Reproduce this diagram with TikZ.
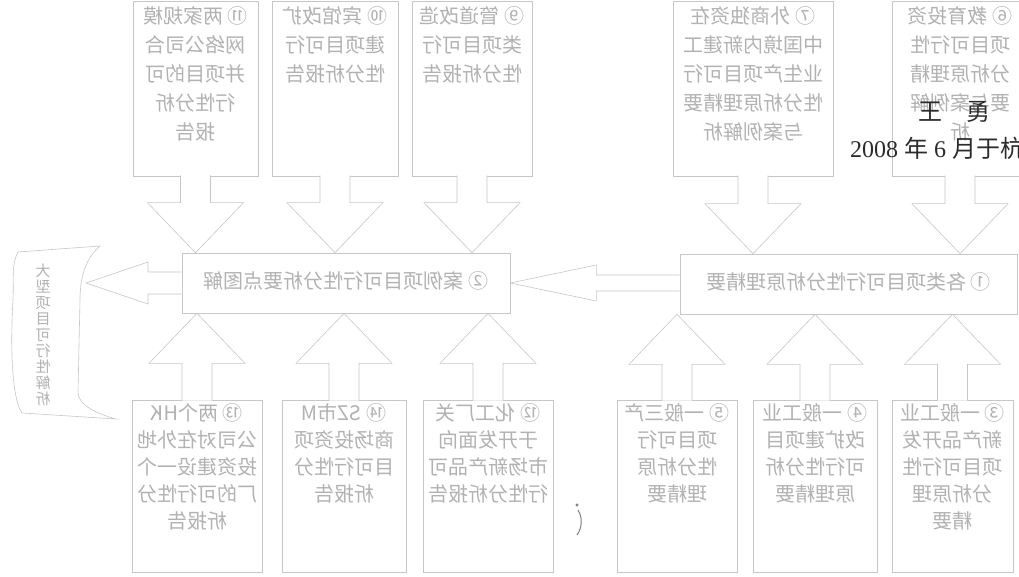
\documentclass[tikz,border=0pt]{standalone}
\usepackage{fontspec}
\setmainfont{Liberation Serif}
\newfontfamily\cjk{Noto Sans CJK SC}
\usepackage{graphicx}
\usetikzlibrary{calc,positioning}
\definecolor{boxgray}{rgb}{0.78,0.78,0.78}
\definecolor{txtgray}{rgb}{0.70,0.70,0.70}
\definecolor{inkgray}{rgb}{0.17,0.17,0.17}
\tikzset{
  box/.style={draw=boxgray, line width=0.6pt, inner sep=0pt, text=txtgray,
    font=\cjk\fontsize{20}{29}\selectfont},
  lowbox/.style={box, font=\cjk\fontsize{20}{27}\selectfont},
  bigbox/.style={box, font=\cjk\fontsize{20}{22}\selectfont},
  arr/.style={draw=boxgray, line width=0.6pt, fill=white},
  ink/.style={inner sep=0pt, text=inkgray, font=\fontsize{24}{24}\selectfont},
}
% text seen through the page: mirrored block (height, width, top pad, lines)
\newcommand\mirtext[4]{\reflectbox{\parbox[c][#1][t]{#2}{\centering\vspace*{#3}#4}}}
% hollow block arrow up/down: from, to, sign (1 down, -1 up)
\newcommand\vblock[3]{%
  \draw[arr] let \p1=(#1), \p2=(#1 |- #2) in
    ({\x1-15pt},{\y1+(#3)*1pt}) -- ({\x1-15pt},{\y2+(#3)*50pt})
    -- ({\x1-48pt},{\y2+(#3)*50pt}) -- (\x1,\y2) -- ({\x1+48pt},{\y2+(#3)*50pt})
    -- ({\x1+15pt},{\y2+(#3)*50pt}) -- ({\x1+15pt},{\y1+(#3)*1pt});}
% hollow block arrow to the left: from, to, head length, shaft half, head half
\newcommand\hblock[5]{%
  \draw[arr] let \p1=(#1), \p2=(#2) in
    (\x1,{\y2+#4}) -- ({\x2+#3},{\y2+#4}) -- ({\x2+#3},{\y2+#5}) -- (\x2,\y2)
    -- ({\x2+#3},{\y2-#5}) -- ({\x2+#3},{\y2-#4}) -- (\x1,{\y2-#4});}

\begin{document}
\begin{tikzpicture}[x=1pt,y=1pt]
  \useasboundingbox (0,0) rectangle (1019,-577);
  \clip (0,0) rectangle (1019,-577);
  \fill[white] (0,0) rectangle (1019,-577);
  \def\th{175pt} % height of upper boxes
  \def\bh{172pt} % height of lower boxes
  % upper row
  \node[box] (t1) at (195.5,-88.5) {\mirtext{\th}{125pt}{6pt}{⑪ 两家规模\\网络公司合\\并项目的可\\行性分析\\报告}};
  \node[box] (t2) at (335,-88.5) {\mirtext{\th}{126pt}{6pt}{⑩ 宾馆改扩\\建项目可行\\性分析报告}};
  \node[box] (t3) at (472,-88.5) {\mirtext{\th}{120pt}{6pt}{⑨ 管道改造\\类项目可行\\性分析报告}};
  \node[box] (t4) at (753,-88.5) {\mirtext{\th}{160pt}{6pt}{⑦ 外商独资在\\中国境内新建工\\业生产项目可行\\性分析原理精要\\与案例解析}};
  \node[box] (t5) at (960,-88.5) {\mirtext{\th}{136pt}{6pt}{⑥ 教育投资\\项目可行性\\分析原理精\\要与案例解\\析}};
  % middle row
  \node[bigbox] (c2) at (346,-283) {\mirtext{60pt}{328pt}{19pt}{② 案例项目可行性分析要点图解}};
  \node[bigbox] (c1) at (848.5,-284) {\mirtext{60pt}{337pt}{19pt}{① 各类项目可行性分析原理精要}};
  % lower row
  \node[lowbox] (b1) at (197,-486) {\mirtext{\bh}{130pt}{4pt}{⑬ 两个HK\\公司对在外地\\投资建设一个\\厂的可行性分\\析报告}};
  \node[lowbox] (b2) at (344,-486) {\mirtext{\bh}{124pt}{4pt}{⑭ SZ市M\\商场投资项\\目可行性分\\析报告}};
  \node[lowbox] (b3) at (488,-486) {\mirtext{\bh}{130pt}{4pt}{⑫ 化工厂关\\于开发面向\\市场新产品可\\行性分析报告}};
  \node[lowbox] (b4) at (677,-486) {\mirtext{\bh}{120pt}{4pt}{⑤ 一般三产\\项目可行\\性分析原\\理精要}};
  \node[lowbox] (b5) at (815,-486) {\mirtext{\bh}{124pt}{4pt}{④ 一般工业\\改扩建项目\\可行性分析\\原理精要}};
  \node[lowbox] (b6) at (952.5,-486) {\mirtext{\bh}{121pt}{4pt}{③ 一般工业\\新产品开发\\项目可行性\\分析原理\\精要}};
  % scroll on the left
  \draw[boxgray, line width=0.6pt] (18,-252) -- (100,-246)
    .. controls (86,-258) and (80,-276) .. (80,-300) -- (78,-392)
    .. controls (78,-404) and (94,-413) .. (116,-419) -- (22,-413)
    .. controls (10,-396) and (11,-330) .. (13,-300)
    .. controls (14,-280) and (11,-265) .. (18,-252) -- cycle;
  \coordinate (scrollin) at (86,-283);
  \node[box, draw=none, font=\cjk\fontsize{15}{16}\selectfont] (scroll) at (43,-335)
    {\reflectbox{\parbox{17pt}{\centering 大\\型\\项\\目\\可\\行\\性\\解\\析}}};
  % arrows
  \foreach \a/\b in {t1/c2,t2/c2,t3/c2,t4/c1,t5/c1} {\vblock{\a.south}{\b.north}{1}}
  \foreach \a/\b in {b1/c2,b2/c2,b3/c2,b4/c1,b5/c1,b6/c1} {\vblock{\a.north}{\b.south}{-1}}
  \hblock{c1.west}{c2.east}{86pt}{8pt}{18pt}
  \hblock{c2.west}{scrollin}{62pt}{11pt}{21pt}
  % mark on the scan
  \fill[gray] (577,-505) circle (1.6);
  \draw[gray, line width=1pt] (578,-510) .. controls (583,-518) and (582,-528) .. (577,-535);
  % front-page signature
  \node[ink, font=\cjk\fontsize{24}{24}\selectfont] (author) at (954,-112) {王\quad 勇};
  \node[ink, anchor=west] (date) at (850,-148) {2008 {\cjk 年} 6 {\cjk 月于杭州}};
\end{tikzpicture}
\end{document}
